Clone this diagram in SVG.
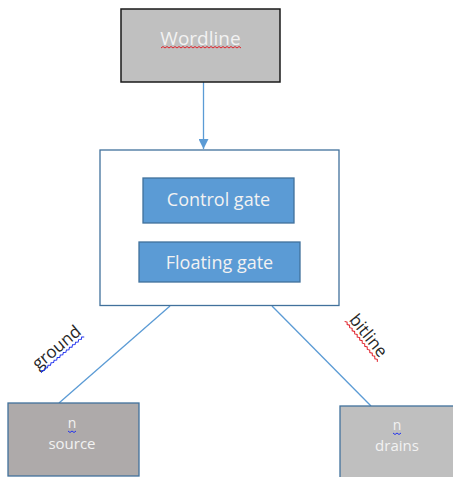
<svg xmlns="http://www.w3.org/2000/svg" width="453" height="477" viewBox="0 0 453 477">
<style>
.lbl{font-family:"Open Sans","Noto Sans",sans-serif;text-anchor:middle;}
.w{fill:#f2f2f2;}
.k{fill:#262626;}
.blue{fill:#5b9bd5;stroke:#41719c;stroke-width:1.3;}
.conn{stroke:#5b9bd5;stroke-width:1.3;fill:none;}
.sqr{stroke:#e0202a;stroke-width:1;fill:none;}
.sqb{stroke:#2233ee;stroke-width:1;fill:none;}
</style>
<defs>
<marker id="ah" viewBox="0 0 10 10" refX="10" refY="5" markerWidth="10" markerHeight="10" markerUnits="userSpaceOnUse" orient="auto">
<path d="M0,0 L10,5 L0,10 Z" fill="#5b9bd5"/>
</marker>
</defs>
<g id="connectors">
<line class="conn" x1="203.5" y1="82" x2="203.5" y2="149" marker-end="url(#ah)"/>
<line class="conn" x1="170" y1="306" x2="59" y2="403"/>
<line class="conn" x1="272" y1="306" x2="371" y2="406"/>
<g transform="translate(57,348) rotate(-40)">
<text class="lbl k" x="0" y="5" font-size="17">ground</text>
<path class="sqb" d="M-28,9 l2,-1.5 l2,1.5 l2,-1.5 l2,1.5 l2,-1.5 l2,1.5 l2,-1.5 l2,1.5 l2,-1.5 l2,1.5 l2,-1.5 l2,1.5 l2,-1.5 l2,1.5 l2,-1.5 l2,1.5 l2,-1.5 l2,1.5 l2,-1.5 l2,1.5 l2,-1.5 l2,1.5 l2,-1.5 l2,1.5 l2,-1.5 l2,1.5 l2,-1.5 l2,1.5"/>
</g>
<g transform="translate(368,336) rotate(51)">
<text class="lbl k" x="0" y="5" font-size="17">bitline</text>
<path class="sqr" d="M-26,9 l2,-1.5 l2,1.5 l2,-1.5 l2,1.5 l2,-1.5 l2,1.5 l2,-1.5 l2,1.5 l2,-1.5 l2,1.5 l2,-1.5 l2,1.5 l2,-1.5 l2,1.5 l2,-1.5 l2,1.5 l2,-1.5 l2,1.5 l2,-1.5 l2,1.5 l2,-1.5 l2,1.5 l2,-1.5 l2,1.5 l2,-1.5 l2,1.5"/>
</g>
</g>
<g id="wordline">
<rect x="121" y="9" width="159" height="73" fill="#c0c0c0" stroke="#1a1a1a" stroke-width="1.5"/>
<text class="lbl w" x="200.5" y="45" font-size="19">Wordline</text>
<path class="sqr" d="M161,48 l2,-1.5 l2,1.5 l2,-1.5 l2,1.5 l2,-1.5 l2,1.5 l2,-1.5 l2,1.5 l2,-1.5 l2,1.5 l2,-1.5 l2,1.5 l2,-1.5 l2,1.5 l2,-1.5 l2,1.5 l2,-1.5 l2,1.5 l2,-1.5 l2,1.5 l2,-1.5 l2,1.5 l2,-1.5 l2,1.5 l2,-1.5 l2,1.5 l2,-1.5 l2,1.5 l2,-1.5 l2,1.5 l2,-1.5 l2,1.5 l2,-1.5 l2,1.5 l2,-1.5 l2,1.5 l2,-1.5 l2,1.5 l2,-1.5 l2,1.5"/>
</g>
<g id="cell">
<rect x="100" y="150" width="239" height="155.5" fill="#ffffff" stroke="#41719c" stroke-width="1.3"/>
</g>
<g id="control-gate">
<rect class="blue" x="143" y="178" width="151" height="45"/>
<text class="lbl w" x="218.5" y="206" font-size="18">Control gate</text>
</g>
<g id="floating-gate">
<rect class="blue" x="139" y="242" width="161" height="40"/>
<text class="lbl w" x="219.5" y="269" font-size="18">Floating gate</text>
</g>
<g id="source">
<rect x="8" y="403" width="131" height="73" fill="#aeaaaa" stroke="#41719c" stroke-width="1.3"/>
<text class="lbl w" x="72" y="428" font-size="14">n</text>
<path class="sqb" d="M68,431 l2,1.5 l2,-1.5 l2,1.5 l2,-1.5"/>
<text class="lbl w" x="72" y="449" font-size="15">source</text>
</g>
<g id="drains">
<rect x="340" y="406" width="120" height="75" fill="#bfbfbf" stroke="#41719c" stroke-width="1.3"/>
<text class="lbl w" x="397" y="430" font-size="14">n</text>
<path class="sqb" d="M393,433 l2,1.5 l2,-1.5 l2,1.5 l2,-1.5"/>
<text class="lbl w" x="397" y="451" font-size="15">drains</text>
</g>
</svg>
